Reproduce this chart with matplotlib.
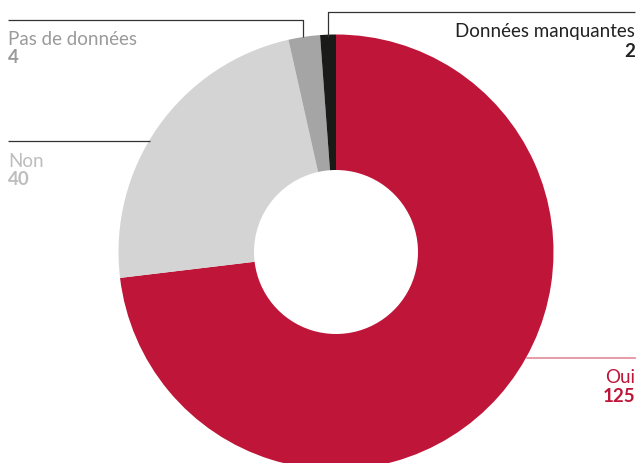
import matplotlib
matplotlib.use("Agg")
import matplotlib.pyplot as plt

# Réponses au questionnaire
categories = ["Oui", "Non", "Pas de données", "Données manquantes"]
counts = [125, 40, 4, 2]
colors = ["#BE1538", "#D4D4D4", "#A4A5A4", "#1A1A18"]
text_colors = ["#BE1538", "#BDBDBD", "#9A9A9A", "#222222"]

W, H = 638, 463


def py(y):
    # pixel rows are counted from the top
    return H - y


plt.rcParams["font.family"] = ["Lato", "DejaVu Sans"]

fig = plt.figure(figsize=(W / 100, H / 100), dpi=100)
ax = fig.add_axes([0, 0, 1, 1])

cx, cy, r = 336, py(252), 217.5
ax.pie(counts, colors=colors, startangle=90, counterclock=False,
       center=(cx, cy), radius=r, frame=True,
       wedgeprops=dict(width=r - 82, linewidth=0))
ax.set_xlim(0, W)
ax.set_ylim(0, H)
ax.set_aspect("equal")
ax.axis("off")

# leader lines
line_kw = dict(color="#333333", linewidth=0.9, solid_capstyle="butt")
ax.plot([8, 303, 303], [py(20), py(20), py(37)], **line_kw)
ax.plot([8, 150], [py(141), py(141)], **line_kw)
ax.plot([328, 328, 635], [py(37), py(12), py(12)], **line_kw)
ax.plot([527, 635], [py(358), py(358)], color="#E08A98", linewidth=1.2)

fs = 13.5
labels = [
    (635, 383, 402, "right"),   # Oui
    (8, 167, 185, "left"),      # Non
    (8, 45, 63, "left"),        # Pas de données
    (635, 37, 57, "right"),     # Données manquantes
]
for (x, y1, y2, ha), name, n, c in zip(labels, categories, counts, text_colors):
    ax.text(x, py(y1), name, ha=ha, va="baseline", fontsize=fs, color=c)
    ax.text(x, py(y2), str(n), ha=ha, va="baseline", fontsize=fs,
            color=c, fontweight="bold")

fig.savefig("out.png", dpi=100)
